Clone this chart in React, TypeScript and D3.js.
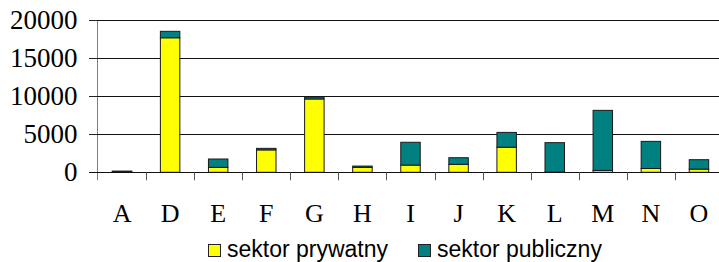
import React, { useEffect, useRef } from "react";
import * as d3 from "d3";

const categories = ["A", "D", "E", "F", "G", "H", "I", "J", "K", "L", "M", "N", "O"];
const prywatny = [100, 17700, 650, 2950, 9650, 650, 950, 1050, 3300, 30, 250, 500, 420];
const publiczny = [60, 850, 1100, 200, 250, 170, 3000, 870, 1950, 3870, 7900, 3570, 1240];
const yTicks = [0, 5000, 10000, 15000, 20000];
const seriesNames = ["sektor prywatny", "sektor publiczny"];
const colors = ["#ffff00", "#008080"];

export default function App() {
  const ref = useRef<SVGSVGElement>(null);

  useEffect(() => {
    const width = 719;
    const height = 262;
    const marginLeft = 98;
    const plotRight = 723; // plot runs past the image edge
    const yTop = 20.3;
    const yBottom = 172.3;

    const svg = d3.select(ref.current);
    svg.selectAll("*").remove();
    svg.attr("width", width).attr("height", height);

    const x = d3.scaleBand<string>().domain(categories).range([marginLeft, plotRight]).padding(0);
    const y = d3.scaleLinear().domain([0, 20000]).range([yBottom, yTop]);

    // grid lines
    svg
      .append("g")
      .selectAll("line")
      .data(yTicks.filter((t) => t > 0))
      .join("line")
      .attr("x1", marginLeft)
      .attr("x2", plotRight)
      .attr("y1", (d) => Math.round(y(d)) + 0.5)
      .attr("y2", (d) => Math.round(y(d)) + 0.5)
      .attr("stroke", "#111")
      .attr("stroke-width", 1);

    // stacked bars
    const rows = categories.map((c, i) => ({ cat: c, p: prywatny[i], q: publiczny[i] }));
    const stack = d3.stack<any>().keys(["p", "q"])(rows);
    const bw = x.bandwidth() * 0.405;

    svg
      .append("g")
      .selectAll("g")
      .data(stack)
      .join("g")
      .attr("fill", (_, i) => colors[i])
      .selectAll("rect")
      .data((d) => d)
      .join("rect")
      .attr("x", (d) => (x(d.data.cat) as number) + (x.bandwidth() - bw) / 2)
      .attr("y", (d) => y(d[1]))
      .attr("width", bw)
      .attr("height", (d) => Math.max(0, y(d[0]) - y(d[1])))
      .attr("stroke", "#1a1a1a")
      .attr("stroke-width", 1);

    // y axis
    const yAxis = svg.append("g");
    yAxis
      .append("line")
      .attr("x1", marginLeft - 0.5)
      .attr("x2", marginLeft - 0.5)
      .attr("y1", yTop)
      .attr("y2", yBottom + 8)
      .attr("stroke", "#808080");
    yAxis
      .selectAll("line.tk")
      .data(yTicks)
      .join("line")
      .attr("class", "tk")
      .attr("x1", marginLeft - 9)
      .attr("x2", marginLeft)
      .attr("y1", (d) => Math.round(y(d)) + 0.5)
      .attr("y2", (d) => Math.round(y(d)) + 0.5)
      .attr("stroke", "#222");
    yAxis
      .selectAll("text")
      .data(yTicks)
      .join("text")
      .attr("x", 77.5)
      .attr("y", (d) => y(d))
      .attr("dy", "0.34em")
      .attr("text-anchor", "end")
      .attr("font-family", "'Liberation Serif', 'Times New Roman', serif")
      .attr("font-size", 27)
      .attr("fill", "#000")
      .text((d) => String(d));

    // x axis
    const xAxis = svg.append("g");
    xAxis
      .append("line")
      .attr("x1", marginLeft - 9)
      .attr("x2", plotRight)
      .attr("y1", Math.round(yBottom) + 0.5)
      .attr("y2", Math.round(yBottom) + 0.5)
      .attr("stroke", "#111");
    xAxis
      .selectAll("line.tk")
      .data(categories.slice(1))
      .join("line")
      .attr("class", "tk")
      .attr("x1", (d) => Math.round(x(d) as number) + 0.5)
      .attr("x2", (d) => Math.round(x(d) as number) + 0.5)
      .attr("y1", yBottom)
      .attr("y2", yBottom + 8)
      .attr("stroke", "#555");
    xAxis
      .selectAll("text")
      .data(categories)
      .join("text")
      .attr("x", (d) => (x(d) as number) + x.bandwidth() / 2)
      .attr("y", 222)
      .attr("text-anchor", "middle")
      .attr("font-family", "'Liberation Serif', 'Times New Roman', serif")
      .attr("font-size", 26)
      .attr("fill", "#000")
      .text((d) => d);

    // legend
    const legendX = [208, 418];
    const legend = svg
      .append("g")
      .selectAll("g")
      .data(seriesNames)
      .join("g")
      .attr("transform", (_, i) => `translate(${legendX[i]},0)`);
    legend
      .append("rect")
      .attr("x", 0.5)
      .attr("y", 244.5)
      .attr("width", 12)
      .attr("height", 12)
      .attr("fill", (_, i) => colors[i])
      .attr("stroke", "#222");
    legend
      .append("text")
      .attr("x", 19)
      .attr("y", 257)
      .attr("font-family", "'Liberation Sans', Arial, sans-serif")
      .attr("font-size", 23)
      .attr("fill", "#000")
      .text((d) => d);
  }, []);

  return <svg ref={ref} style={{ position: "absolute", left: 0, top: 0, display: "block" }} />;
}
